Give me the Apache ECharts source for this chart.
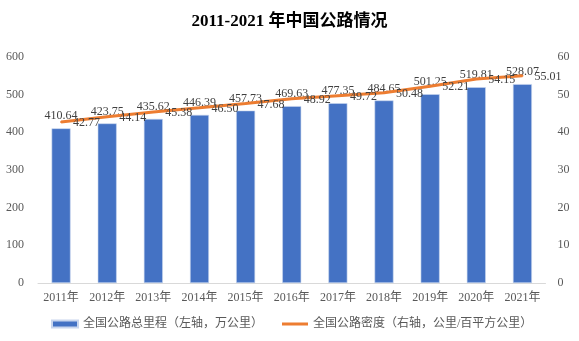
<!DOCTYPE html>
<html>
<head>
<meta charset="utf-8">
<script src="https://cdn.jsdelivr.net/npm/echarts@6/dist/echarts.min.js"></script>
<style>html,body{margin:0;padding:0;background:#fff;}#c{width:579px;height:341px;}</style>
</head>
<body>
<div id="c"></div>
<script>
const categories = ['2011年','2012年','2013年','2014年','2015年','2016年','2017年','2018年','2019年','2020年','2021年'];
const mileage = [410.64, 423.75, 435.62, 446.39, 457.73, 469.63, 477.35, 484.65, 501.25, 519.81, 528.07];
const density = [42.77, 44.14, 45.38, 46.50, 47.68, 48.92, 49.72, 50.48, 52.21, 54.15, 55.01];
const leftTicks = {min: 0, max: 600, interval: 100};
const rightTicks = {min: 0, max: 60, interval: 10};
const seriesNames = ['全国公路总里程（左轴，万公里）', '全国公路密度（右轴，公里/百平方公里）'];

const FONT = "'Liberation Serif', 'Noto Sans CJK SC', serif";
const chart = echarts.init(document.getElementById('c'));
chart.setOption({
  animation: false,
  backgroundColor: '#fff',
  title: {
    text: '2011-2021 年中国公路情况',
    left: 'center',
    top: 8,
    textStyle: {fontFamily: FONT, fontWeight: 'bold', fontSize: 17, color: '#000'}
  },
  grid: {left: 38, right: 33.5, top: 57, bottom: 58, containLabel: false},
  legend: {
    left: 51, top: 318, padding: 0,
    itemWidth: 26, itemHeight: 7, itemGap: 19,
    textStyle: {fontFamily: FONT, fontSize: 12, color: '#595959'},
    data: [
      {name: seriesNames[0], icon: 'rect'},
      {name: seriesNames[1], icon: 'path://M0,0 L0.01,0 L0.01,0.01 Z M0,2 L27,2 L27,5 L0,5 Z M0,7 L0.01,7 L0.01,6.99 Z'}
    ]
  },
  xAxis: {
    type: 'category',
    data: categories,
    axisLine: {lineStyle: {color: '#d9d9d9', width: 1}},
    axisTick: {show: false},
    axisLabel: {fontFamily: FONT, fontSize: 12, color: '#595959', margin: 9, interval: 0}
  },
  yAxis: [
    {type: 'value', min: leftTicks.min, max: leftTicks.max, interval: leftTicks.interval,
     splitLine: {show: false}, axisLine: {show: false}, axisTick: {show: false},
     axisLabel: {fontFamily: FONT, fontSize: 12, color: '#595959', margin: 14}},
    {type: 'value', min: rightTicks.min, max: rightTicks.max, interval: rightTicks.interval,
     splitLine: {show: false}, axisLine: {show: false}, axisTick: {show: false},
     axisLabel: {fontFamily: FONT, fontSize: 12, color: '#595959', margin: 12}}
  ],
  series: [
    {
      name: seriesNames[0], type: 'bar', yAxisIndex: 0, data: mileage,
      barWidth: 19,
      itemStyle: {color: '#4472C4', borderColor: '#c9d6ee', borderWidth: 0.6},
      label: {show: true, position: 'top', distance: 6, fontFamily: FONT, fontSize: 12, color: '#404040',
              formatter: p => p.value.toFixed(2)}
    },
    {
      name: seriesNames[1], type: 'line', yAxisIndex: 1, data: density,
      symbol: 'circle', symbolSize: 2, showSymbol: true,
      lineStyle: {color: '#ED7D31', width: 3},
      itemStyle: {color: '#ED7D31'},
      label: {show: true, position: 'right', distance: 11, offset: [0, 1], fontFamily: FONT, fontSize: 12, color: '#404040',
              formatter: p => p.value.toFixed(2)},
      z: 5
    }
  ]
});
</script>
</body>
</html>
